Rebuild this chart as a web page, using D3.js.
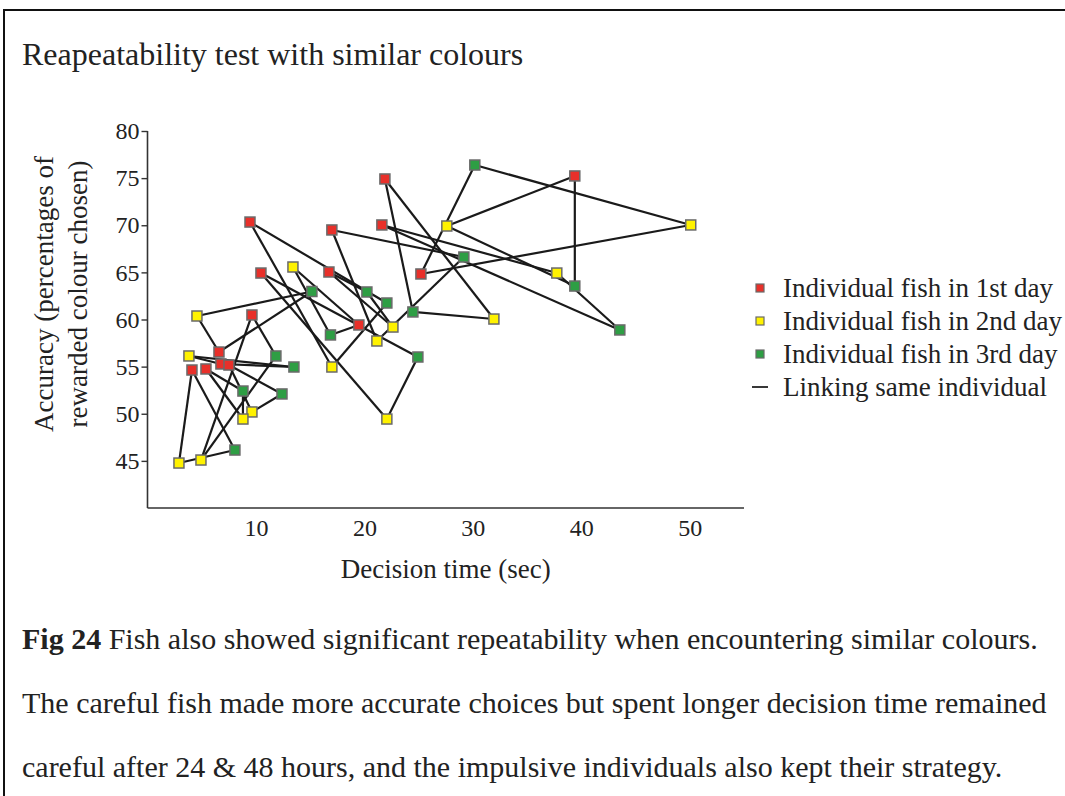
<!DOCTYPE html>
<html>
<head>
<meta charset="utf-8">
<script src="https://cdn.jsdelivr.net/npm/d3@7"></script>
<style>
  html, body { margin: 0; padding: 0; background: #fff; }
  svg { display: block; }
  text { font-family: "Liberation Serif", "Times New Roman", serif; fill: #222; }
</style>
</head>
<body>
<svg id="chart" width="1065" height="796"></svg>
<script>
// Each index is one fish; the three arrays of a day hold that fish's values.
const day1Time = [4.10, 9.63, 39.40, 21.89, 25.21, 21.61, 6.59, 19.49, 10.46, 16.73, 9.45, 17.00, 6.77, 7.51, 5.39];
const day1Acc  = [54.64, 60.48, 75.23, 74.91, 64.83, 70.03, 56.55, 59.42, 64.93, 65.04, 70.34, 69.50, 55.28, 55.17, 54.75];
const day2Time = [2.90, 4.93, 27.60, 31.94, 50.09, 37.74, 4.56, 13.41, 22.07, 22.63, 17.00, 21.15, 3.82, 9.63, 8.80];
const day2Acc  = [44.77, 45.09, 69.92, 60.05, 70.03, 64.93, 60.37, 65.57, 49.44, 59.20, 54.96, 57.72, 56.13, 50.19, 49.44];
const day3Time = [8.06, 11.84, 39.40, 24.47, 30.18, 43.55, 15.16, 16.87, 24.93, 20.23, 22.07, 29.17, 13.50, 12.40, 8.80];
const day3Acc  = [46.15, 56.13, 63.55, 60.80, 76.39, 58.89, 62.97, 58.36, 56.02, 62.92, 61.75, 66.63, 54.96, 52.10, 52.41];

const xTicks = [10, 20, 30, 40, 50];
const yTicks = [45, 50, 55, 60, 65, 70, 75, 80];
const dayLabels = ["Individual fish in 1st day", "Individual fish in 2nd day", "Individual fish in 3rd day"];
const linkLabel = "Linking same individual";
const dayColors = ["#e8302a", "#fff200", "#2e9e44"];

const title = "Reapeatability test with similar colours";
const xTitle = "Decision time (sec)";
const yTitle = ["Accuracy (percentages of", "rewarded colour chosen)"];
const captionBold = "Fig 24";
const captionLines = [
  " Fish also showed significant repeatability when encountering similar colours.",
  "The careful fish made more accurate choices but spent longer decision time remained",
  "careful after 24 & 48 hours, and the impulsive individuals also kept their strategy."
];

const svg = d3.select("#chart");

// frame
svg.append("path")
  .attr("d", "M4,796 V10 H1065")
  .attr("fill", "none").attr("stroke", "#111").attr("stroke-width", 2);

svg.append("text").attr("x", 22).attr("y", 65)
  .attr("font-size", 32).text(title);

const x = d3.scaleLinear().domain([0, 55]).range([147.5, 744]);
const y = d3.scaleLinear().domain([40, 80]).range([508, 131]);

const gx = svg.append("g").attr("transform", "translate(0,508)")
  .call(d3.axisBottom(x).tickValues(xTicks).tickSize(0).tickPadding(11));
const gy = svg.append("g").attr("transform", "translate(147.5,0)")
  .call(d3.axisLeft(y).tickValues(yTicks).tickSize(6).tickPadding(2));
[gx, gy].forEach(g => {
  g.select(".domain").attr("stroke", "#333").attr("stroke-width", 1.6);
  g.selectAll(".tick line").attr("stroke", "#333").attr("stroke-width", 1.4);
  g.selectAll(".tick text").attr("font-family", "Liberation Serif, serif")
    .attr("font-size", 24).attr("fill", "#222");
});
// domain lines start exactly at the corner
gx.select(".domain").attr("d", `M${x(0)},0H${x(55)}`);
gy.select(".domain").attr("d", `M0,${y(40)}V${y(80)}`);

svg.append("text").attr("x", x(27.5)).attr("y", 578)
  .attr("text-anchor", "middle").attr("font-size", 27).text(xTitle);

yTitle.forEach((t, i) => {
  svg.append("text")
    .attr("transform", `translate(${53 + i * 34},${294}) rotate(-90)`)
    .attr("text-anchor", "middle").attr("font-size", 27).text(t);
});

// individuals: links between the three days of each fish
const fish = d3.range(day1Time.length).map(i => [
  [day1Time[i], day1Acc[i]],
  [day2Time[i], day2Acc[i]],
  [day3Time[i], day3Acc[i]]
]);

const plot = svg.append("g");
fish.forEach(p => {
  [[0, 1], [1, 2], [0, 2]].forEach(([a, b]) => {
    plot.append("line")
      .attr("x1", x(p[a][0])).attr("y1", y(p[a][1]))
      .attr("x2", x(p[b][0])).attr("y2", y(p[b][1]))
      .attr("stroke", "#1a1a1a").attr("stroke-width", 2.2);
  });
});

const days = [
  [day1Time, day1Acc],
  [day2Time, day2Acc],
  [day3Time, day3Acc]
];
const s = 10;
days.forEach(([tx, ay], d) => {
  plot.selectAll(null).data(tx).enter().append("rect")
    .attr("x", (v) => x(v) - s / 2)
    .attr("y", (v, i) => y(ay[i]) - s / 2)
    .attr("width", s).attr("height", s)
    .attr("fill", dayColors[d])
    .attr("stroke", "#6a6a6a").attr("stroke-width", 1.5);
});

// legend
const lg = svg.append("g").attr("transform", "translate(760,288)");
dayLabels.forEach((t, i) => {
  lg.append("rect").attr("x", -4).attr("y", i * 33 - 4).attr("width", 8).attr("height", 8)
    .attr("fill", dayColors[i]).attr("stroke", "#6a6a6a").attr("stroke-width", 1.2);
  lg.append("text").attr("x", 23).attr("y", i * 33 + 9).attr("font-size", 27).text(t);
});
lg.append("line").attr("x1", -8).attr("x2", 8).attr("y1", 99).attr("y2", 99)
  .attr("stroke", "#222").attr("stroke-width", 1.8);
lg.append("text").attr("x", 23).attr("y", 99 + 9).attr("font-size", 27).text(linkLabel);

// caption
const cap = svg.append("g");
captionLines.forEach((t, i) => {
  const tt = cap.append("text").attr("x", 22).attr("y", 649 + i * 64).attr("font-size", 30);
  if (i === 0) tt.append("tspan").attr("font-weight", "bold").text(captionBold);
  tt.append("tspan").text(t);
});
</script>
</body>
</html>
